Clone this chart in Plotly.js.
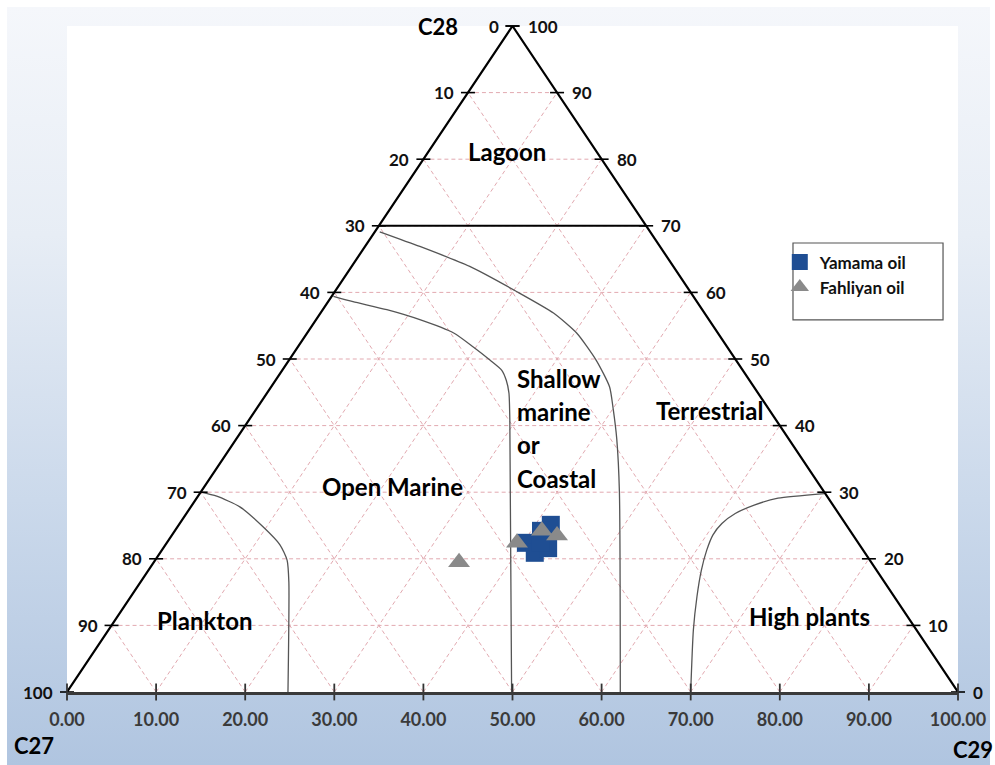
<!DOCTYPE html>
<html>
<head>
<meta charset="utf-8">
<script src="https://cdn.plot.ly/plotly-3.0.1.min.js"></script>
<style>
  html, body { margin: 0; padding: 0; background: #ffffff; }
  #frame {
    position: absolute; left: 7px; top: 7px; width: 983px; height: 758px;
    background: linear-gradient(to bottom, #f5f7fb 0%, #e7edf5 30%, #cbd9eb 65%, #b0c5e0 100%);
  }
  #chart { position: absolute; left: 0; top: 0; width: 995px; height: 765px; }
</style>
</head>
<body>
<div id="frame"></div>
<div id="chart"></div>
<script>
// Scale values along each side of the triangle
const scaleTicks = [0, 10, 20, 30, 40, 50, 60, 70, 80, 90, 100];
const gridSteps = [10, 20, 30, 40, 50, 60, 70, 80, 90];

// Sterane samples (x = position along C27-C29 base, y = height toward C28)
const yamamaX = [54.3, 53.2, 51.5, 52.5, 54.0, 53.1];
const yamamaY = [25.1, 24.2, 22.4, 20.9, 21.6, 22.4];
const fahliyanX = [44.0, 50.5, 53.3, 55.0];
const fahliyanY = [19.5, 22.4, 24.2, 23.5];

// Environment boundaries
const lagoonX = [35, 65];
const lagoonY = [70, 70];
const planktonX = [15, 16.8, 19.4, 22.0, 23.9, 24.7, 24.9, 24.8];
const planktonY = [30, 29.4, 27.8, 24.8, 22.1, 19.8, 16.5, 0];
const marineX = [29.9, 32.1, 35.9, 39.6, 43.4, 45.6, 47.5, 48.8, 49.3, 49.6, 49.7, 49.9];
const marineY = [59.4, 58.6, 57.4, 55.9, 53.9, 51.8, 49.8, 48.3, 46.8, 44.9, 40.8, 0];
const terrX = [35.1, 39.6, 45.2, 50.5, 54.6, 57.2, 59.4, 60.9, 61.3, 61.7, 62.0, 62.1];
const terrY = [69.1, 66.9, 63.9, 60.1, 56.9, 53.9, 49.8, 45.8, 42.5, 38.0, 30.0, 0];
const plantsX = [85.0, 79.8, 77.2, 75.0, 73.5, 72.5, 71.8, 71.2, 70.7, 70.3, 70.0];
const plantsY = [29.8, 29.1, 28.1, 26.8, 25.3, 23.6, 21.3, 18.3, 14.3, 9.3, 0];

const FONT = 'Lato, "Open Sans", sans-serif';

// Dashed ternary grid: horizontals plus the two diagonal families
const gx = [], gy = [];
gridSteps.forEach(v => {
  gx.push(v / 2, 100 - v / 2, null); gy.push(v, v, null);
  gx.push(v, (100 + v) / 2, null);   gy.push(0, 100 - v, null);
  gx.push(v, v / 2, null);           gy.push(0, v, null);
});

// Side tick positions
const sideTickX = [], sideTickY = [];
scaleTicks.forEach(h => {
  sideTickX.push(h / 2, 100 - h / 2);
  sideTickY.push(h, h);
});

const boundary = (x, y) => ({
  x: x, y: y, type: 'scatter', mode: 'lines',
  line: { color: '#555555', width: 1.3, shape: 'spline', smoothing: 0.6 },
  hoverinfo: 'skip', showlegend: false
});

const traces = [
  { x: gx, y: gy, type: 'scatter', mode: 'lines',
    line: { color: '#e2a9b0', width: 1, dash: '4px,3px' },
    hoverinfo: 'skip', showlegend: false },
  boundary(planktonX, planktonY),
  boundary(marineX, marineY),
  boundary(terrX, terrY),
  boundary(plantsX, plantsY),
  { x: lagoonX, y: lagoonY, type: 'scatter', mode: 'lines',
    line: { color: '#000000', width: 2 }, hoverinfo: 'skip', showlegend: false },
  { x: [0, 50, 100], y: [0, 100, 0], type: 'scatter', mode: 'lines',
    line: { color: '#000000', width: 2.2 }, hoverinfo: 'skip', showlegend: false, cliponaxis: false },
  { x: sideTickX, y: sideTickY, type: 'scatter', mode: 'markers', cliponaxis: false,
    marker: { symbol: 'line-ew', size: 10, line: { color: '#000000', width: 1.6 } },
    hoverinfo: 'skip', showlegend: false },
  { x: scaleTicks, y: scaleTicks.map(() => 0), type: 'scatter', mode: 'markers', cliponaxis: false,
    marker: { symbol: 'line-ns', size: 12, line: { color: '#333333', width: 1.8 } },
    hoverinfo: 'skip', showlegend: false },
  { x: yamamaX, y: yamamaY, type: 'scatter', mode: 'markers', name: 'Yamama oil',
    marker: { symbol: 'square', size: 18, color: '#1f4e93', line: { width: 0 } } },
  { x: fahliyanX, y: fahliyanY, type: 'scatter', mode: 'markers', name: 'Fahliyan oil',
    marker: { symbol: 'triangle-up', size: 19, color: '#8a8a8a', line: { width: 0 } } }
];

const annotations = [];
const addText = (x, y, text, opts) => annotations.push(Object.assign({
  x: x, y: y, xref: 'x', yref: 'y', text: text, showarrow: false,
  xanchor: 'center', yanchor: 'middle',
  font: { family: FONT, size: 17, weight: 'bold', color: '#111111' }
}, opts));

// Left side labels (C27 share) and right side labels
scaleTicks.forEach(v => {
  addText((100 - v) / 2, 100 - v, String(v), { xanchor: 'right', xshift: -12 });
  addText(100 - v / 2, v, String(v), { xanchor: 'left', xshift: 13 });
});

const big = { family: FONT, size: 24, weight: 'bold', color: '#000000' };
const corner = { family: FONT, size: 22, weight: 'bold', color: '#000000' };
addText(41.6, 100, 'C28', { font: corner });
// Corner names below the base sit outside the data range, so they use paper coordinates
addText(-0.037, -0.08, 'C27', { font: corner, xref: 'paper', yref: 'paper' });
addText(1.0168, -0.087, 'C29', { font: corner, xref: 'paper', yref: 'paper' });

addText(49.4, 81.2, 'Lagoon', { font: big });
addText(72.1, 42.3, 'Terrestrial', { font: big });
addText(36.5, 30.8, 'Open Marine', { font: big });
addText(15.5, 10.8, 'Plankton', { font: big });
addText(83.3, 11.3, 'High plants', { font: big });
['Shallow', 'marine', 'or', 'Coastal'].forEach((w, i) => {
  addText(50.3, 47.1 - i * 5.0, w, { font: big, xanchor: 'left' });
});

const layout = {
  width: 995, height: 765,
  margin: { l: 67, r: 37, t: 26, b: 73 },
  paper_bgcolor: 'rgba(0,0,0,0)',
  plot_bgcolor: '#ffffff',
  xaxis: {
    range: [0, 100], tickvals: scaleTicks, ticktext: scaleTicks.map(v => v.toFixed(2)),
    showgrid: false, zeroline: false, showline: true, linecolor: '#3a3a3a', linewidth: 3,
    ticks: '', ticklabelstandoff: 9,
    tickfont: { family: FONT, size: 18, weight: 'bold', color: '#3a3a3a' }, fixedrange: true
  },
  yaxis: { range: [0, 100], visible: false, fixedrange: true },
  showlegend: true,
  legend: {
    x: 0.80, y: 0.672, xanchor: 'left', yanchor: 'top',
    bgcolor: 'rgba(0,0,0,0)', borderwidth: 0,
    font: { family: FONT, size: 17, weight: 'bold', color: '#111111' },
    tracegroupgap: 0
  },
  shapes: [{
    type: 'rect', xref: 'paper', yref: 'paper',
    x0: 0.8148, x1: 0.9832, y0: 0.5586, y1: 0.6742,
    line: { color: '#555555', width: 1.2 }, fillcolor: '#ffffff', layer: 'below'
  }],
  annotations: annotations
};

Plotly.newPlot('chart', traces, layout, { displayModeBar: false, staticPlot: true });
</script>
</body>
</html>
